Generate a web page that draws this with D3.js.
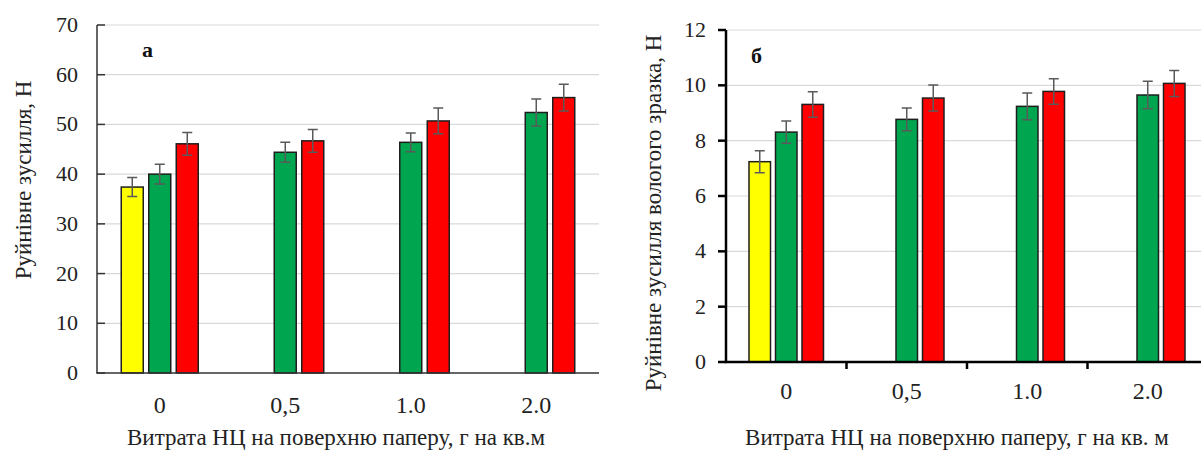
<!DOCTYPE html>
<html>
<head>
<meta charset="utf-8">
<script src="https://cdn.jsdelivr.net/npm/d3@7"></script>
<style>
body { margin: 0; background: #fff; }
svg { display: block; font-family: "Liberation Serif", "Times New Roman", serif; }
.grid line { stroke: #d9d9d9; stroke-width: 1.2; }
.bar { stroke: #1e1e1e; stroke-width: 1.5; }
.err { stroke: #5a5a5a; stroke-width: 1.5; fill: none; }
.y-label { font-size: 22px; fill: #222; }
.x-label { font-size: 24px; fill: #222; }
.axis-title { font-size: 23px; fill: #222; }
.panel-label { font-size: 22px; font-weight: bold; fill: #111; }
</style>
</head>
<body>
<svg width="1201" height="452"></svg>
<script>
// categories on the x axis (g per sq.m)
var categories = ['0', '0,5', '1.0', '2.0'];
var seriesColors = ['#ffff00', '#00a64f', '#ff0000'];

// panel a - breaking force, N
var dryYellow = [37.4, null, null, null];
var dryGreen  = [40.0, 44.4, 46.4, 52.4];
var dryRed    = [46.1, 46.7, 50.7, 55.4];
var dryYellowErr = [1.9, null, null, null];
var dryGreenErr  = [2.0, 2.0, 1.9, 2.7];
var dryRedErr    = [2.3, 2.3, 2.6, 2.7];
var dryTicks = [0, 10, 20, 30, 40, 50, 60, 70];

// panel b - breaking force of wet sample, N
var wetYellow = [7.24, null, null, null];
var wetGreen  = [8.31, 8.77, 9.24, 9.65];
var wetRed    = [9.31, 9.54, 9.78, 10.07];
var wetYellowErr = [0.40, null, null, null];
var wetGreenErr  = [0.40, 0.41, 0.48, 0.50];
var wetRedErr    = [0.46, 0.47, 0.46, 0.47];
var wetTicks = [0, 2, 4, 6, 8, 10, 12];

function BarPanel(){

}

BarPanel.prototype.render = function(series, errors, ticks, options){
	this.options = options;
	var o = options;
	var svg = d3.select('svg');
	var g = svg.append('g');

	var x = d3.scaleBand().domain(categories).range([o.x0, o.x1]).padding(0);
	var y = d3.scaleLinear().domain([0, d3.max(ticks)]).range([o.yZero, o.yTop]);
	var slot = d3.scalePoint().domain([0, 1, 2]).range([-o.slotGap, o.slotGap]);

	// gridlines
	g.append('g').attr('class', 'grid')
		.selectAll('line').data(ticks.filter(function(t){ return t > 0; }))
		.join('line')
		.attr('x1', o.x0).attr('x2', o.gridEnd)
		.attr('y1', function(d){ return y(d); })
		.attr('y2', function(d){ return y(d); });

	// bars
	series.forEach(function(vals, si){
		var items = vals.map(function(v, i){ return {cat: categories[i], v: v, e: errors[si][i]}; })
		                .filter(function(d){ return d.v != null; });
		var cx = function(d){ return x(d.cat) + x.bandwidth() / 2 + slot(si); };
		g.append('g').selectAll('rect').data(items).join('rect')
			.attr('class', 'bar')
			.attr('x', function(d){ return cx(d) - o.barW / 2; })
			.attr('width', o.barW)
			.attr('y', function(d){ return y(d.v); })
			.attr('height', function(d){ return y(0) - y(d.v); })
			.attr('fill', seriesColors[si]);

		g.append('g').selectAll('path').data(items).join('path')
			.attr('class', 'err')
			.attr('d', function(d){
				var c = cx(d), t = y(d.v + d.e), b = y(d.v - d.e);
				return 'M' + (c - 5) + ',' + t + 'H' + (c + 5) +
				       'M' + c + ',' + t + 'V' + b +
				       'M' + (c - 5) + ',' + b + 'H' + (c + 5);
			});
	});

	// axes
	var axisColor = o.axisColor;
	g.append('line').attr('x1', o.x0).attr('x2', o.x0)
		.attr('y1', o.yTop).attr('y2', o.yZero)
		.attr('stroke', axisColor).attr('stroke-width', o.axisW);
	g.append('line').attr('x1', o.x0 - o.axisW / 2).attr('x2', o.axisEnd)
		.attr('y1', o.yZero).attr('y2', o.yZero)
		.attr('stroke', axisColor).attr('stroke-width', o.axisW);

	// y ticks (inside for a, outside for b)
	g.append('g').selectAll('line').data(ticks).join('line')
		.attr('x1', o.x0).attr('x2', o.x0 + o.yTickDir * 8)
		.attr('y1', function(d){ return y(d); })
		.attr('y2', function(d){ return y(d); })
		.attr('stroke', axisColor).attr('stroke-width', o.axisW);

	g.append('g').selectAll('text').data(ticks).join('text')
		.attr('class', 'y-label')
		.attr('x', o.yLabelX)
		.attr('y', function(d){ return y(d) + 7; })
		.attr('text-anchor', 'end')
		.text(function(d){ return d; });

	// x ticks at band boundaries (only panel b)
	if(o.xTicks){
		g.append('g').selectAll('line').data(categories.slice(1)).join('line')
			.attr('x1', function(d){ return x(d); })
			.attr('x2', function(d){ return x(d); })
			.attr('y1', o.yZero).attr('y2', o.yZero + 7)
			.attr('stroke', axisColor).attr('stroke-width', o.axisW);
	}

	g.append('g').selectAll('text').data(categories).join('text')
		.attr('class', 'x-label')
		.attr('x', function(d){ return x(d) + x.bandwidth() / 2; })
		.attr('y', o.xLabelY)
		.attr('text-anchor', 'middle')
		.text(function(d){ return d; });

	// titles
	g.append('text').attr('class', 'axis-title')
		.attr('x', o.xTitleX).attr('y', o.xTitleY)
		.attr('text-anchor', 'middle')
		.text(o.xTitle);

	g.append('text').attr('class', 'axis-title')
		.attr('transform', 'translate(' + o.yTitleX + ',' + o.yTitleY + ') rotate(-90)')
		.attr('text-anchor', 'middle')
		.text(o.yTitle);

	g.append('text').attr('class', 'panel-label')
		.attr('x', o.panelX).attr('y', o.panelY)
		.text(o.panel);

	return g;
}

var panelA = new BarPanel();
panelA.render([dryYellow, dryGreen, dryRed], [dryYellowErr, dryGreenErr, dryRedErr], dryTicks, {
	x0: 97, x1: 599, gridEnd: 599, axisEnd: 599, yTop: 25, yZero: 373,
	slotGap: 27.5, barW: 22, axisColor: '#333', axisW: 1.5, yTickDir: 1,
	yLabelX: 78, xLabelY: 413, xTicks: false,
	xTitle: 'Витрата НЦ на поверхню паперу, г на кв.м', xTitleX: 336, xTitleY: 445,
	yTitle: 'Руйнівне зусилля, Н', yTitleX: 31, yTitleY: 180,
	panel: 'а', panelX: 142, panelY: 57
});

var panelB = new BarPanel();
panelB.render([wetYellow, wetGreen, wetRed], [wetYellowErr, wetGreenErr, wetRedErr], wetTicks, {
	x0: 726, x1: 1208, gridEnd: 1201, axisEnd: 1201, yTop: 30, yZero: 362,
	slotGap: 26.5, barW: 21.5, axisColor: '#000', axisW: 2.5, yTickDir: -1,
	yLabelX: 706, xLabelY: 399, xTicks: true,
	xTitle: 'Витрата НЦ на поверхню паперу, г на кв. м', xTitleX: 957, xTitleY: 445,
	yTitle: 'Руйнівне зусилля вологого зразка, Н', yTitleX: 661, yTitleY: 213,
	panel: 'б', panelX: 751, panelY: 63
});
</script>
</body>
</html>
